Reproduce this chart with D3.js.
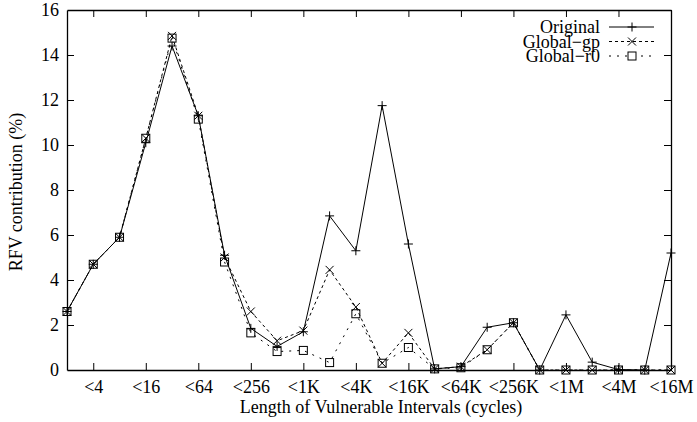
<!DOCTYPE html>
<html>
<head>
<meta charset="utf-8">
<style>
body { margin: 0px; background: white; }
text { font-family: "Liberation Serif", "Times New Roman", serif; fill: #000; }
</style>
</head>
<body>
<div id="elm"></div>
<script src="https://cdn.jsdelivr.net/npm/d3@7"></script>
<script>
'use strict';

// one point per power of two, <2 ... <16M
var categories = ['<2', '<4', '<8', '<16', '<32', '<64', '<128', '<256', '<512', '<1K', '<2K', '<4K',
  '<8K', '<16K', '<32K', '<64K', '<128K', '<256K', '<512K', '<1M', '<2M', '<4M', '<8M', '<16M'];
var tickLabels = ['<4', '<16', '<64', '<256', '<1K', '<4K', '<16K', '<64K', '<256K', '<1M', '<4M', '<16M'];
var yTicks = [0, 2, 4, 6, 8, 10, 12, 14, 16];

var original = [2.6, 4.7, 5.9, 10.1, 14.4, 11.3, 5.1, 1.85, 1.05, 1.7, 6.85, 5.3,
  11.75, 5.6, 0.05, 0.15, 1.9, 2.1, 0, 2.45, 0.35, 0.02, 0, 5.2];
var globalGp = [2.6, 4.7, 5.9, 10.3, 14.85, 11.3, 5.0, 2.6, 1.3, 1.75, 4.45, 2.8,
  0.3, 1.65, 0.05, 0.15, 0.9, 2.1, 0, 0, 0, 0, 0, 0];
var globalR0 = [2.6, 4.7, 5.9, 10.3, 14.75, 11.15, 4.8, 1.65, 0.82, 0.87, 0.33, 2.5,
  0.3, 1.0, 0.05, 0.1, 0.9, 2.1, 0, 0, 0, 0, 0, 0];

var W = 697, H = 422;
var m = { left: 67, right: 26, top: 10, bottom: 52 };

var svg = d3.select('#elm').append('svg').attr('width', W).attr('height', H);

var x = d3.scalePoint().domain(categories).range([m.left, W - m.right]);
var y = d3.scaleLinear().domain([0, 16]).range([H - m.bottom, m.top]);

var g = svg.append('g');

// axes: ticks inward, mirrored on top and right
var fs = '18px';
var axB = g.append('g').attr('transform', 'translate(0,' + y(0) + ')')
  .call(d3.axisBottom(x).tickValues(tickLabels).tickSizeInner(-7).tickSizeOuter(0).tickPadding(10));
var axT = g.append('g').attr('transform', 'translate(0,' + y(16) + ')')
  .call(d3.axisTop(x).tickValues(tickLabels).tickSizeInner(-7).tickSizeOuter(0).tickFormat(''));
var axL = g.append('g').attr('transform', 'translate(' + x(categories[0]) + ',0)')
  .call(d3.axisLeft(y).tickValues(yTicks).tickSizeInner(-7).tickSizeOuter(0).tickPadding(8));
var axR = g.append('g').attr('transform', 'translate(' + x(categories[23]) + ',0)')
  .call(d3.axisRight(y).tickValues(yTicks.slice(1, -1)).tickSizeInner(-7).tickSizeOuter(0).tickFormat(''));

[axB, axT, axL, axR].forEach(function(a) {
  a.select('.domain').attr('stroke', '#000').attr('stroke-width', 1.3);
  a.selectAll('.tick line').attr('stroke', '#000').attr('stroke-width', 1);
  a.selectAll('text').style('font-size', fs).style('font-family', '"Liberation Serif", serif').attr('fill', '#000');
});
axL.selectAll('.tick line').filter(function(d) { return d === 0 || d === 16; }).remove();

svg.append('text').attr('x', (x(categories[0]) + x(categories[23])) / 2 + 12).attr('y', 413)
  .attr('text-anchor', 'middle').style('font-size', fs)
  .text('Length of Vulnerable Intervals (cycles)');
svg.append('text').attr('transform', 'translate(22,' + ((y(0) + y(16)) / 2 + 2) + ') rotate(-90)')
  .attr('text-anchor', 'middle').style('font-size', fs)
  .text('RFV contribution (%)');

var series = [
  { name: 'Original', values: original, dash: null, marker: 'plus' },
  { name: 'Global\u2212gp', values: globalGp, dash: '3,3', marker: 'cross' },
  { name: 'Global\u2212r0', values: globalR0, dash: '2,6', marker: 'square' }
];

function drawMarker(sel, type, cx, cy) {
  var s = 4.5;
  if (type === 'plus') {
    sel.append('path').attr('d', 'M' + (cx - s) + ',' + cy + 'H' + (cx + s) + 'M' + cx + ',' + (cy - s) + 'V' + (cy + s));
  } else if (type === 'cross') {
    var c = 4;
    sel.append('path').attr('d', 'M' + (cx - c) + ',' + (cy - c) + 'L' + (cx + c) + ',' + (cy + c) +
      'M' + (cx - c) + ',' + (cy + c) + 'L' + (cx + c) + ',' + (cy - c));
  } else {
    sel.append('rect').attr('x', cx - 4).attr('y', cy - 4).attr('width', 8).attr('height', 8);
  }
}

var line = d3.line().x(function(d, i) { return x(categories[i]); }).y(function(d) { return y(d); });

series.forEach(function(s) {
  g.append('path').datum(s.values).attr('d', line)
    .attr('fill', 'none').attr('stroke', '#000').attr('stroke-width', 1)
    .attr('stroke-dasharray', s.dash);
  var mg = g.append('g').attr('fill', 'none').attr('stroke', '#000').attr('stroke-width', 1);
  s.values.forEach(function(v, i) { drawMarker(mg, s.marker, x(categories[i]), y(v)); });
});

// legend
var lg = svg.append('g');
series.forEach(function(s, i) {
  var ly = 27 + i * 14.5;
  lg.append('text').attr('x', 600).attr('y', ly + 6).attr('text-anchor', 'end')
    .style('font-size', fs).text(s.name);
  lg.append('line').attr('x1', 609).attr('x2', 654).attr('y1', ly).attr('y2', ly)
    .attr('stroke', '#000').attr('stroke-width', 1).attr('stroke-dasharray', s.dash);
  var mg = lg.append('g').attr('fill', s.marker === 'square' ? '#fff' : 'none')
    .attr('stroke', '#000').attr('stroke-width', 1);
  drawMarker(mg, s.marker, 632, ly);
});
</script>
</body>
</html>
